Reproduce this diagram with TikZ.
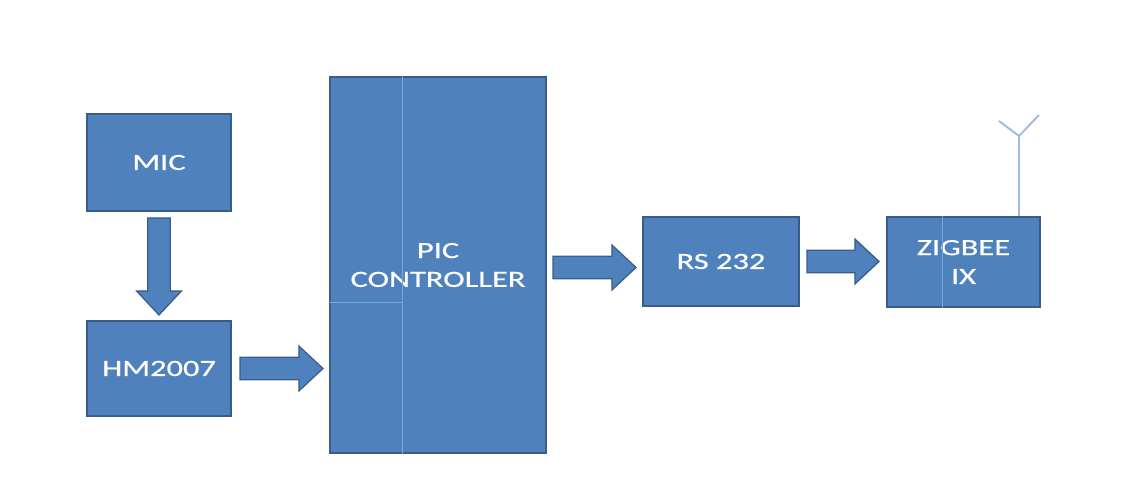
\documentclass[tikz,border=0pt]{standalone}
\usepackage{fontspec}
\setmainfont[FakeStretch=1.4, FakeBold=0.6]{Carlito}
\usetikzlibrary{calc}

\definecolor{boxblue}{HTML}{4F81BD}
\definecolor{boxedge}{HTML}{385D8A}
\definecolor{seamblue}{HTML}{7FA4D6}
\definecolor{antblue}{HTML}{9DB9DD}

\tikzset{
    block/.style={draw=boxedge, fill=boxblue, line width=1.4pt, text=white,
        align=center, inner sep=0pt, font=\fontsize{16.5pt}{20.5pt}\selectfont},
    fat/.style={draw=boxedge, fill=boxblue, line width=0.9pt, line join=miter},
    seam/.style={draw=seamblue, line width=0.5pt},
    antenna/.style={draw=antblue, line width=1.3pt}
}

% Fat block arrow from #1 to #2
\newcommand{\fatarrow}[2]{
    \coordinate (fa1) at (#1);
    \coordinate (fa2) at (#2);
    \coordinate (fab) at ($(fa2)!0.6cm!(fa1)$);
    \filldraw[fat] ($(fa1)!0.28cm!90:(fa2)$) -- ($(fab)!0.28cm!90:(fa2)$)
        -- ($(fab)!0.56cm!90:(fa2)$) -- (fa2) -- ($(fab)!0.56cm!-90:(fa2)$)
        -- ($(fab)!0.28cm!-90:(fa2)$) -- ($(fa1)!0.28cm!-90:(fa2)$) -- cycle;
}

\begin{document}
\begin{tikzpicture}[x=0.025cm, y=-0.025cm]
    \useasboundingbox (0,0) rectangle (1132,504);

    % Draw blocks
    \node[block, minimum width=3.6cm, minimum height=2.425cm] (mic) at (159,162.5) {MIC};
    \node[block, minimum width=3.6cm, minimum height=2.375cm] (hm) at (159,368.5) {HM2007};
    \node[block, minimum width=5.4cm, minimum height=9.4cm] (pic) at (438,265) {PIC\\CONTROLLER};
    \node[block, minimum width=3.9cm, minimum height=2.225cm] (rs) at (721,261.5) {RS 232};
    \node[block, minimum width=3.825cm, minimum height=2.25cm] (zig) at (963.5,262) {ZIGBEE\\IX};

    % Seams in the blocks
    \draw[seam] ($(pic.north west)+(73,0)$) -- ($(pic.south west)+(73,0)$);
    \draw[seam] ($(pic.west)+(0,37)$) -- ($(pic.west)+(73,37)$);
    \draw[seam] ($(zig.north west)+(56,0)$) -- ($(zig.south west)+(56,0)$);

    % Draw fat arrows
    \fatarrow{$(mic.south)+(0,6)$}{$(hm.north)+(0,-5)$}
    \fatarrow{$(hm.east)+(8,0)$}{$(pic.west |- hm.east)+(-6,0)$}
    \fatarrow{$(pic.east |- rs.east)+(6,6)$}{$(rs.west)+(-6,6)$}
    \fatarrow{$(rs.east)+(7,0)$}{$(zig.west |- rs.east)+(-7,0)$}

    % Antenna
    \coordinate (antbase) at ($(zig.north east)+(-22,0)$);
    \coordinate (antfork) at ($(antbase)+(0,-80)$);
    \coordinate (antleft) at ($(antfork)+(-20,-15)$);
    \coordinate (antright) at ($(antfork)+(20,-21)$);
    \draw[antenna] (antbase) -- (antfork) -- (antleft);
    \draw[antenna] (antfork) -- (antright);
\end{tikzpicture}
\end{document}
